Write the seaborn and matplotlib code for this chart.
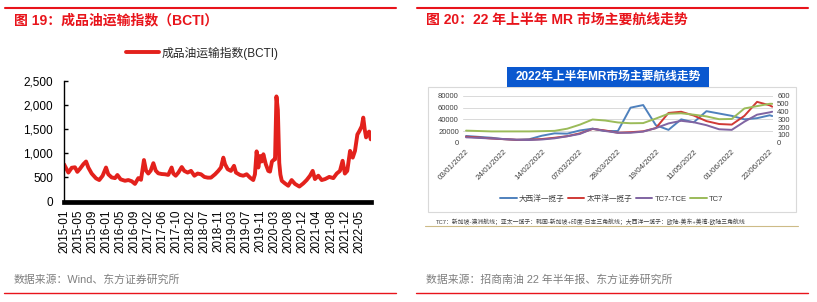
import matplotlib
matplotlib.use("Agg")
import pandas as pd
import matplotlib.pyplot as plt
import seaborn as sns
from matplotlib.lines import Line2D
from matplotlib.patches import Rectangle
from matplotlib.ticker import StrMethodFormatter

# ---- left panel: BCTI (position in tick-label units, value) ----
bcti_ticks = ["2015-01", "2015-05", "2015-09", "2016-01", "2016-05", "2016-09",
              "2017-02", "2017-06", "2017-10", "2018-02", "2018-07", "2018-11",
              "2019-03", "2019-07", "2019-11", "2020-03", "2020-08", "2020-12",
              "2021-04", "2021-08", "2021-12", "2022-05"]
bcti_pos = [0.00, 0.31, 0.55, 0.78, 0.95, 1.14, 1.38, 1.57, 1.73, 1.97, 2.28, 2.51,
            2.75, 2.99, 3.15, 3.39, 3.63, 3.80, 4.03, 4.34, 4.58, 4.82, 5.05, 5.29,
            5.48, 5.69, 5.84, 6.00, 6.17, 6.36, 6.53, 6.71, 6.95, 7.19, 7.42, 7.66,
            7.78, 7.95, 8.14, 8.38, 8.56, 8.80, 9.04, 9.28, 9.51, 9.75, 9.99, 10.23,
            10.46, 10.75, 10.98, 11.17, 11.34, 11.46, 11.65, 11.88, 12.10, 12.24,
            12.53, 12.76, 13.00, 13.24, 13.47, 13.59, 13.71, 13.83, 13.95, 14.07,
            14.19, 14.36, 14.54, 14.66, 14.80, 14.97, 15.02, 15.12, 15.22, 15.32,
            15.40, 15.50, 15.73, 15.96, 16.20, 16.44, 16.75, 17.03, 17.27, 17.51,
            17.70, 17.86, 18.10, 18.34, 18.58, 18.88, 19.17, 19.41, 19.64, 19.83,
            19.99, 20.16, 20.36, 20.55, 20.71, 20.88, 21.02, 21.19, 21.30, 21.40,
            21.50, 21.62, 21.72, 21.83]
bcti_val = [773, 600, 700, 710, 615, 680, 775, 830, 705, 580, 480, 445,
            535, 705, 565, 500, 485, 550, 460, 430, 445, 420, 365, 485,
            450, 860, 640, 580, 640, 795, 640, 585, 570, 565, 552, 705,
            580, 535, 600, 715, 635, 600, 635, 535, 580, 565, 510, 495,
            495, 565, 635, 705, 910, 775, 670, 635, 740, 600,
            550, 535, 565, 495, 445, 565, 1040, 705, 945, 830,
            980, 775, 635, 620, 830, 875, 875, 2180, 1900, 800,
            560, 430, 375, 327, 445, 365, 310, 375, 445, 535,
            635, 465, 535, 445, 465, 510, 485, 580, 635, 845,
            580, 635, 1050, 910, 1050, 1390, 1460, 1560, 1740, 1500,
            1330, 1420, 1450, 1290]

# ---- right panel: MR routes, H1 2022 (business-day index) ----
mr_ticks = ["03/01/2022", "24/01/2022", "14/02/2022", "07/03/2022", "28/03/2022",
            "19/04/2022", "11/05/2022", "01/06/2022", "22/06/2022"]
mr_tick_pos = [0, 15, 30, 45, 60, 75, 90, 105, 120]
mr_pos = [0, 5, 10, 15, 20, 25, 30, 35, 40, 45, 50, 55, 60, 65, 70, 75, 80, 85,
          90, 95, 100, 105, 110, 115, 120, 121]
atlantic = [11500, 10000, 8500, 6000, 5000, 6000, 12000, 16000, 15500, 21000, 24000,
            20000, 20000, 60000, 64500, 30000, 22000, 40000, 35000, 54000, 50000,
            46000, 40000, 42000, 47000, 45700]
pacific = [10300, 9000, 7200, 6000, 5000, 5200, 6300, 8500, 11200, 16000, 23500,
           21000, 17000, 18000, 19500, 25000, 51000, 53000, 46500, 37000, 32000,
           31000, 46000, 70000, 64000, 61700]
tc7_tce = [9200, 8200, 7200, 6300, 5000, 4600, 5500, 7500, 11000, 15000, 24000,
           20000, 17000, 17000, 19000, 25000, 33000, 37500, 35000, 30000, 23000,
           22000, 36000, 48000, 52000, 53100]
tc7_ws = [155, 150, 145, 145, 145, 145, 148, 152, 180, 232, 298, 285, 260, 250,
          252, 310, 372, 378, 360, 338, 302, 305, 440, 470, 500, 500]
route_names = ["大西洋一揽子", "太平洋一揽子", "TC7-TCE", "TC7"]
route_colors = ["#4F81BD", "#D03A36", "#8064A2", "#9BBB59"]

TITLE_RED = "#E8141B"
LINE_RED = "#E3211C"
GREY = "#7F7F7F"

sns.set_theme(style="white")
plt.rcParams["font.family"] = ["Liberation Sans", "Noto Sans CJK SC"]
plt.rcParams["axes.unicode_minus"] = False

W, H = 817, 302
fig = plt.figure(figsize=(W / 100, H / 100), dpi=100)


def fx(px):
    return px / W


def fy(py):
    return 1 - py / H


def box(x0, y0, x1, y1):
    return [fx(x0), fy(y1), (x1 - x0) / W, (y1 - y0) / H]


def hline(x0, x1, y, color, lw):
    fig.add_artist(Line2D([fx(x0), fx(x1)], [fy(y), fy(y)], color=color, lw=lw,
                          transform=fig.transFigure))


# page decoration
hline(5, 396, 8, TITLE_RED, 1.5)
hline(417, 808, 8, TITLE_RED, 1.5)
hline(4, 396, 293, TITLE_RED, 1.0)
hline(416, 808, 293, TITLE_RED, 1.0)
fig.text(fx(14), fy(20), "图 19：成品油运输指数（BCTI）", color=TITLE_RED,
         fontsize=10, fontweight="bold", va="center")
fig.text(fx(426), fy(20), "图 20：22 年上半年 MR 市场主要航线走势", color=TITLE_RED,
         fontsize=10, fontweight="bold", va="center")
fig.text(fx(14), fy(280), "数据来源：Wind、东方证券研究所", color=GREY,
         fontsize=7.8, va="center")
fig.text(fx(426), fy(280), "数据来源：招商南油 22 年半年报、东方证券研究所", color=GREY,
         fontsize=7.8, va="center")

# ---- left chart ----
ax1 = fig.add_axes(box(64, 81, 371, 201.5))
sns.lineplot(x=bcti_pos, y=bcti_val, ax=ax1, color=LINE_RED, lw=2.8,
             label="成品油运输指数(BCTI)", legend=False)
ax1.set_xlim(0, 21.85)
ax1.set_ylim(0, 2500)
ax1.set_xticks(range(len(bcti_ticks)))
ax1.set_xticklabels(bcti_ticks, rotation=90)
ax1.set_yticks(range(0, 2501, 500))
ax1.yaxis.set_major_formatter(StrMethodFormatter("{x:,.0f}"))
ax1.tick_params(axis="x", length=0, pad=6, labelsize=8.5, labelcolor="black")
ax1.tick_params(axis="y", left=True, direction="in", length=3, width=1, pad=8,
                labelsize=8.5, labelcolor="black", color="black")
for s in ["top", "right"]:
    ax1.spines[s].set_visible(False)
ax1.spines["left"].set_color("black")
ax1.spines["left"].set_linewidth(1)
ax1.spines["bottom"].set_color("black")
ax1.spines["bottom"].set_linewidth(3.4)
ax1.set_xlabel("")
ax1.set_ylabel("")
ax1.legend(loc="center", bbox_to_anchor=(fx(202), fy(53)), bbox_transform=fig.transFigure,
           frameon=False, fontsize=8.5, handlelength=2.8, handletextpad=0.2)

# ---- right chart (embedded picture) ----
fig.add_artist(Rectangle((fx(428), fy(212)), 368 / W, 125 / H, transform=fig.transFigure,
                         fill=False, ec="#D9D9D9", lw=0.8))
fig.add_artist(Rectangle((fx(507), fy(87)), 202 / W, 20 / H, transform=fig.transFigure,
                         fc="#0A58CF", ec="none"))
fig.text(fx(608), fy(77), "2022年上半年MR市场主要航线走势", color="white",
         fontsize=8.5, fontweight="bold", ha="center", va="center")

mr_df = pd.DataFrame({
    "pos": mr_pos * 3,
    "value": atlantic + pacific + tc7_tce,
    "route": [route_names[0]] * len(mr_pos) + [route_names[1]] * len(mr_pos)
             + [route_names[2]] * len(mr_pos),
})
ax2 = fig.add_axes(box(463, 96, 773, 142.7))
sns.lineplot(data=mr_df, x="pos", y="value", hue="route", ax=ax2, lw=1.4,
             palette=dict(zip(route_names[:3], route_colors[:3])), legend=False)
ax3 = ax2.twinx()
sns.lineplot(x=mr_pos, y=tc7_ws, ax=ax3, color=route_colors[3], lw=1.4, legend=False)

ax2.set_xlim(-1.2, 121.3)
ax2.set_ylim(0, 80000)
ax2.set_yticks(range(0, 80001, 20000))
ax3.set_ylim(0, 600)
ax3.set_yticks(range(0, 601, 100))
ax2.set_xticks(mr_tick_pos)
ax2.set_xticklabels(mr_ticks, rotation=45, ha="right", rotation_mode="anchor")
ax2.grid(axis="y", color="#D9D9D9", lw=0.7)
ax2.set_axisbelow(True)
ax2.tick_params(axis="x", length=0, pad=4, labelsize=5.8, labelcolor="#404040")
ax2.tick_params(axis="y", length=0, pad=3, labelsize=5.5, labelcolor="#404040")
ax3.tick_params(axis="y", length=0, pad=3, labelsize=5.5, labelcolor="#404040")
for a in (ax2, ax3):
    for s in a.spines.values():
        s.set_visible(False)
    a.set_xlabel("")
    a.set_ylabel("")

handles = [Line2D([], [], color=c, lw=1.4) for c in route_colors]
fig.legend(handles, route_names, loc="center", bbox_to_anchor=(fx(611.5), fy(199)),
           ncol=4, frameon=False, fontsize=5.5, handlelength=2.2, handletextpad=0.3,
           columnspacing=0.4, labelcolor="#404040")

fig.text(fx(436), fy(222),
         "TC7：新加坡-澳洲航线；亚太一揽子：韩国-新加坡+印度-日本三角航线；"
         "大西洋一揽子：欧陆-美东+美湾-欧陆三角航线",
         fontsize=4.2, color="#404040", va="center")
hline(425, 798, 226, "#CDBB87", 0.8)

fig.savefig("out.png", dpi=100)
